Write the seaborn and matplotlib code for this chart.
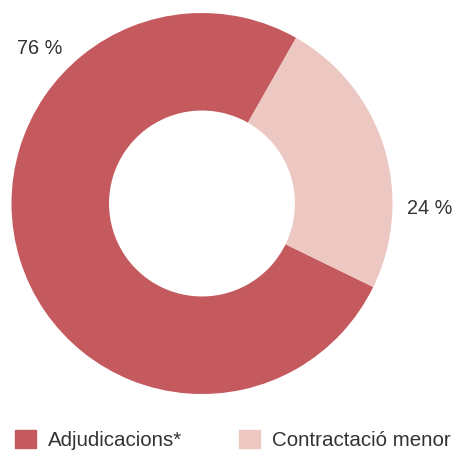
import matplotlib
matplotlib.use("Agg")
import matplotlib.pyplot as plt
import matplotlib.patches as mpatches
import seaborn as sns

categories = ["Adjudicacions*", "Contractació menor"]
shares = [76, 24]
pct_labels = ["76 %", "24 %"]
colors = ["#C55A5E", "#EDC8C2"]

sns.set_style("white")
plt.rcParams['font.family'] = ['Liberation Sans', 'DejaVu Sans']

fig = plt.figure(figsize=(4.55, 4.5), dpi=100)
# donut centre ~ (202, 203.5) px from top-left, radius ~190.5 px
r_px = 190.5
cx, cy = 202, 450 - 203.5
ax = fig.add_axes([(cx - r_px) / 455, (cy - r_px) / 450, 2 * r_px / 455, 2 * r_px / 450])
ax.pie(shares, colors=colors, startangle=-26, counterclock=False, radius=1,
       wedgeprops=dict(width=0.512, edgecolor='none'))
ax.set_xlim(-1, 1)
ax.set_ylim(-1, 1)
ax.axis('off')

ax.text(-0.85, 0.816, pct_labels[0], ha='center', va='center', fontsize=14.3, color='#333333')
ax.text(1.197, -0.024, pct_labels[1], ha='center', va='center', fontsize=14.3, color='#333333')

handles = [mpatches.Patch(color=c, label=l) for c, l in zip(colors, categories)]
fig.legend(handles=handles, loc='lower left', bbox_to_anchor=(15 / 455, 0.0), ncol=2,
           frameon=False, fontsize=14.8, handlelength=1.0, handleheight=1.0,
           handletextpad=0.58, columnspacing=2.8, labelcolor='#333333',
           borderpad=0, borderaxespad=0)

fig.savefig("out.png", dpi=100)
